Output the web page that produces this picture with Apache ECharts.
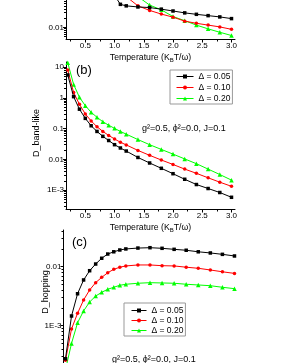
<!DOCTYPE html>
<html><head><meta charset="utf-8">
<script src="https://cdn.jsdelivr.net/npm/echarts@6/dist/echarts.min.js"></script>
<style>html,body{margin:0;padding:0;background:#fff}#c{width:281px;height:363px}</style>
</head><body><div id="c"></div><script>
const seriesNames = ['Δ = 0.05', 'Δ = 0.10', 'Δ = 0.20'];
const temps = [0.2,0.3,0.4,0.5,0.6,0.7,0.8,0.9,1.0,1.1,1.2,1.4,1.6,1.8,2.0,2.2,2.4,2.6,2.8,3.0];
const xTicks = [0.5,1.0,1.5,2.0,2.5,3.0];
const xMinorTicks = [0.25,0.75,1.25,1.75,2.25,2.75];
// panel (a) – only lower part visible
const tempsA = [1.0,1.1,1.2,1.4,1.6,1.8,2.0,2.2,2.4,2.6,2.8,3.0];
const aBlack = [0.11,0.056,0.050,0.046,0.044,0.039,0.034,0.0295,0.0265,0.024,0.0218,0.0192];
const aRed   = [null,null,0.10,0.050,0.0355,0.027,0.0214,0.0159,0.0135,0.0118,0.0103,0.0086];
const aGreen = [null,null,null,0.10,0.053,0.037,0.0224,0.0165,0.0118,0.0089,0.0069,0.0054];
const aTicksY = [0.01];
// panel (b) D_band-like
const bBlack = [5.6,1.1,0.43,0.216,0.124,0.081,0.056,0.041,0.030,0.0234,0.0186,0.0115,0.0076,0.0051,0.0034,0.00224,0.00151,0.00112,0.00083,0.00058];
const bRed   = [8.1,1.5,0.62,0.30,0.178,0.115,0.081,0.060,0.046,0.036,0.0295,0.0195,0.0135,0.0095,0.0068,0.0048,0.0035,0.0025,0.0018,0.00132];
const bGreen = [14,2.75,1.05,0.56,0.34,0.234,0.168,0.129,0.102,0.081,0.066,0.044,0.030,0.021,0.0148,0.0103,0.0072,0.0048,0.0032,0.0021];
const bTicksY = [0.001,0.01,0.1,1,10];
// panel (c) D_hopping
const cBlack = [0.000275,0.00146,0.00348,0.00596,0.00855,0.0111,0.0139,0.0164,0.0179,0.0192,0.0200,0.0207,0.0210,0.0205,0.0197,0.0190,0.0179,0.0171,0.0162,0.0152];
const cRed   = [0.00026,0.00088,0.00162,0.00273,0.00403,0.00537,0.0066,0.0079,0.00903,0.0098,0.0103,0.0107,0.0107,0.0104,0.0103,0.0098,0.0094,0.0088,0.0082,0.0077];
const cGreen = [0.00018,0.0005,0.00112,0.00178,0.00252,0.00318,0.00368,0.00414,0.00448,0.00484,0.00504,0.00524,0.00536,0.0053,0.00524,0.00504,0.0049,0.00476,0.00448,0.00424];
const cTicksY = [0.001,0.01];
const decades = [0.0001,0.001,0.01,0.1,1,10];
const minorMultipliers = [2,3,4,5,6,7,8,9];

const colors = ['#000000','#ff0000','#00ff00'];
const symbols = ['rect','circle','triangle'];
const symSizes = [3.5,3.5,4.5];
const FONT = 'Liberation Sans, Arial, sans-serif';

function logFmt(v){ const e=Math.round(Math.log10(v)); if(e<=-3) return '1E'+e; if(e>=0) return String(Math.pow(10,e)); return Math.pow(10,e).toFixed(-e); }
function pairs(xs, ys){ return xs.map((x,i)=>[x, ys[i]]).filter(p=>p[1]!=null); }
const yMinorTicks = [];
decades.forEach(d=>minorMultipliers.forEach(m=>yMinorTicks.push(+(d*m).toPrecision(3))));

const grids = [
  {left:66, top:0, width:169, height:39.5, outerBoundsMode:'none', containLabel:false},
  {left:66, top:62, width:169, height:147.5, outerBoundsMode:'none', containLabel:false},
  {left:63.5, top:230, width:174, height:150, outerBoundsMode:'none', containLabel:false}
];
const xRanges = [[0.17,3.06],[0.17,3.06],[0.167,3.05]];
const yRanges = [[0.00401,0.0775],[0.000232,14.8],[0.00012,0.0419]];
const yTicks = [aTicksY,bTicksY,cTicksY];

const axisLine = {show:true, lineStyle:{color:'#000', width:1}};
const xAxes = [], yAxes = [];
xRanges.forEach((r,i)=>{
  xAxes.push({
    gridIndex:i, type:'value', position:'bottom', min:r[0], max:r[1], splitLine:{show:false},
    axisLine, axisTick:{customValues:xTicks, length:3, lineStyle:{color:'#000'}},
    axisLabel:{customValues:xTicks, formatter:v=>v.toFixed(1), fontSize:8, fontFamily:FONT, color:'#000', margin:2},
    name: i<2 ? '{a|Temperature (K}{b|B}{a|T/ω)}' : '', nameLocation:'middle', nameGap:13,
    nameTextStyle:{fontFamily:FONT, color:'#000', rich:{a:{fontSize:8.7, fontFamily:FONT}, b:{fontSize:6, fontFamily:FONT, padding:[5,0,0,0]}}}
  });
});
xRanges.forEach((r,i)=>{
  xAxes.push({gridIndex:i, type:'value', position:'bottom', offset:0, min:r[0], max:r[1], splitLine:{show:false},
    axisLine:{show:false}, axisLabel:{show:false}, axisTick:{customValues:xMinorTicks, length:2, lineStyle:{color:'#000'}}});
});
yRanges.forEach((r,i)=>{
  yAxes.push({
    gridIndex:i, type:'log', logBase:10, position:'left', min:r[0], max:r[1], splitLine:{show:false},
    axisLine, axisTick:{customValues:yTicks[i], length:3, lineStyle:{color:'#000'}},
    axisLabel:{customValues:yTicks[i], formatter:logFmt, fontSize:8, fontFamily:FONT, color:'#000', margin:2}
  });
});
yRanges.forEach((r,i)=>{
  yAxes.push({gridIndex:i, type:'log', logBase:10, position:'left', offset:0, min:r[0], max:r[1], splitLine:{show:false},
    axisLine:{show:false}, axisLabel:{show:false},
    axisTick:{customValues:yMinorTicks.filter(v=>v>r[0]&&v<r[1]), length:2, lineStyle:{color:'#000'}}});
});

const series = [];
const panels = [[tempsA,[aBlack,aRed,aGreen]],[temps,[bBlack,bRed,bGreen]],[temps,[cBlack,cRed,cGreen]]];
panels.forEach((p,pi)=>{
  p[1].forEach((ys,si)=>{
    series.push({type:'line', name:seriesNames[si], xAxisIndex:pi, yAxisIndex:pi,
      data:pairs(p[0],ys), symbol:symbols[si], symbolSize:symSizes[si], showSymbol:true,
      lineStyle:{color:colors[si], width:1}, itemStyle:{color:colors[si]}, clip:true, z:10-si});
  });
});

const legendBase = {orient:'vertical', data:seriesNames, backgroundColor:'#fff', borderColor:'#999', borderWidth:1,
  itemHeight:5, lineStyle:{width:1}, textStyle:{fontSize:8.5, fontFamily:FONT, color:'#000'}, selectedMode:false};

const chart = echarts.init(document.getElementById('c'), null, {renderer:'canvas'});
chart.setOption({
  animation:false, backgroundColor:'#fff',
  grid:grids, xAxis:xAxes, yAxis:yAxes, series,
  legend:[
    Object.assign({left:170, top:70, itemWidth:17, itemGap:2, padding:[2,2,1,6]}, legendBase),
    Object.assign({left:124, top:303, itemWidth:15, itemGap:1, padding:[3,2,1,7]}, legendBase)
  ],
  graphic:[
    {type:'text', left:76, top:63.5, style:{text:'(b)', fontSize:13, fontFamily:FONT, fill:'#000'}},
    {type:'text', left:72, top:235.5, style:{text:'(c)', fontSize:13, fontFamily:FONT, fill:'#000'}},
    {type:'text', left:142, top:124, style:{text:'g²=0.5, ϕ²=0.0, J=0.1', fontSize:9, fontFamily:FONT, fill:'#000'}},
    {type:'text', left:112, top:355, style:{text:'g²=0.5, ϕ²=0.0, J=0.1', fontSize:9, fontFamily:FONT, fill:'#000'}},
    {type:'text', x:37, y:133, rotation:Math.PI/2, style:{text:'D_band-like', fontSize:9, fontFamily:FONT, fill:'#000', align:'center', verticalAlign:'middle'}},
    {type:'text', x:46, y:292, rotation:Math.PI/2, style:{text:'D_hopping', fontSize:9, fontFamily:FONT, fill:'#000', align:'center', verticalAlign:'middle'}}
  ]
});
</script></body></html>
